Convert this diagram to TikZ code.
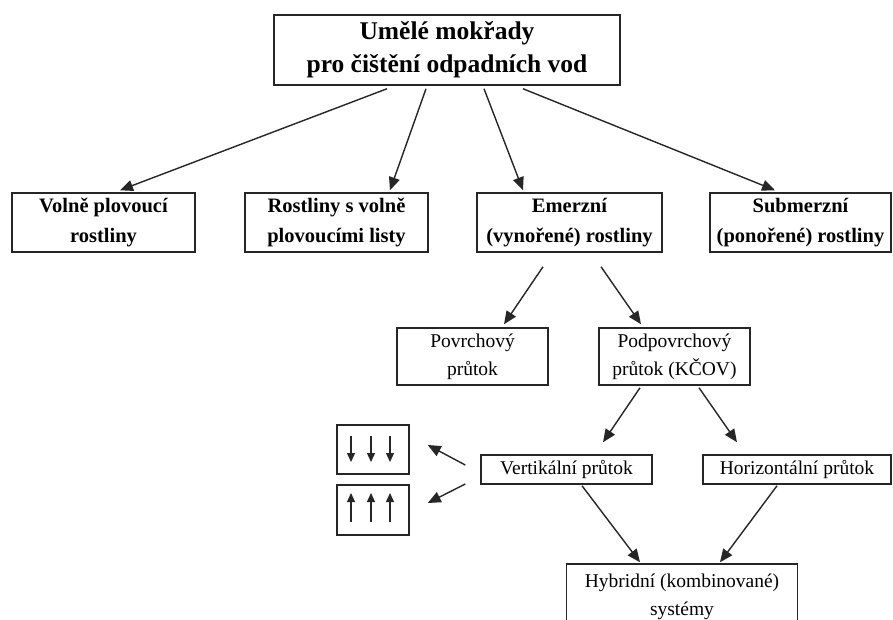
\documentclass[tikz,border=0pt]{standalone}
\usepackage{fontspec}
\setmainfont{Liberation Serif}
\usetikzlibrary{arrows.meta}
\begin{document}
\begin{tikzpicture}[x=1pt,y=-1pt,
  box/.style={draw=black!85,line width=1.5pt,inner sep=0pt,align=center},
  topbox/.style={box,font=\bfseries\fontsize{25.5}{33}\selectfont},
  bbox/.style={box,minimum height=59pt,font=\bfseries\fontsize{20.5}{30}\selectfont},
  rbox/.style={box,font=\fontsize{19.5}{28}\selectfont},
  sbox/.style={draw=black!85,line width=1.5pt,minimum width=72pt,minimum height=49pt,inner sep=0pt},
  arr/.style={draw=black!85,line width=1.4pt,-{Triangle[length=13pt,width=11pt]}},
  sarr/.style={draw=black!85,line width=1.3pt,-{Triangle[length=9pt,width=8pt]}}
]
\path[use as bounding box,clip] (0,0) rectangle (893,619);
\fill[white] (0,0) rectangle (893,619);

\node[topbox,minimum width=346pt,minimum height=70pt] (top) at (447,50) {Umělé mokřady\\pro čištění odpadních vod};

\node[bbox,minimum width=183pt] (v1) at (103.5,222.5) {Volně plovoucí\\rostliny};
\node[bbox,minimum width=183pt] (v2) at (336.5,222.5) {Rostliny s volně\\plovoucími listy};
\node[bbox,minimum width=185pt] (v3) at (569.5,222.5) {Emerzní\\(vynořené) rostliny};
\node[bbox,minimum width=181pt] (v4) at (800.5,222.5) {Submerzní\\(ponořené) rostliny};

\node[rbox,minimum width=151pt,minimum height=57pt] (pov) at (472.5,356.5) {Povrchový\\průtok};
\node[rbox,minimum width=151pt,minimum height=57pt] (podp) at (674.5,356.5) {Podpovrchový\\průtok (KČOV)};

\node[rbox,minimum width=171pt,minimum height=29pt] (vert) at (566.5,469.5) {Vertikální průtok};
\node[rbox,minimum width=188pt,minimum height=29pt] (horiz) at (797,469.5) {Horizontální průtok};

\node[rbox,minimum width=231pt,minimum height=66pt] (hyb) at (682,597) {Hybridní (kombinované)\\systémy};

\node[sbox] (s1) at (373,449.5) {};
\node[sbox,minimum height=50pt] (s2) at (373,510) {};

% top arrows
\draw[arr] ([xshift=-60pt,yshift=-3pt]top.south) -- ([xshift=16.5pt,yshift=2pt]v1.north);
\draw[arr] ([xshift=-21pt,yshift=-3pt]top.south) -- ([xshift=53.5pt,yshift=2pt]v2.north);
\draw[arr] ([xshift=37pt,yshift=-3pt]top.south) -- ([xshift=-46.5pt,yshift=2pt]v3.north);
\draw[arr] ([xshift=76pt,yshift=-3pt]top.south) -- ([xshift=-25.5pt,yshift=2pt]v4.north);

% emerzni arrows
\draw[arr] ([xshift=-26.5pt,yshift=-14pt]v3.south) -- ([xshift=31.5pt,yshift=3pt]pov.north);
\draw[arr] ([xshift=31.5pt,yshift=-14pt]v3.south) -- ([xshift=-33.5pt,yshift=3pt]podp.north);

% podpovrchovy arrows
\draw[arr] ([xshift=-34.5pt,yshift=-2pt]podp.south) -- ([xshift=36.5pt,yshift=12pt]vert.north);
\draw[arr] ([xshift=24.5pt,yshift=-2pt]podp.south) -- ([xshift=-60pt,yshift=12pt]horiz.north);

% to hybrid
\draw[arr] ([xshift=15.5pt,yshift=-1pt]vert.south) -- ([xshift=-42pt,yshift=1pt]hyb.north);
\draw[arr] ([xshift=-20pt,yshift=-1pt]horiz.south) -- ([xshift=38pt,yshift=1pt]hyb.north);

% side arrows
\draw[arr] ([xshift=-15pt,yshift=4.5pt]vert.west) -- ([xshift=18pt,yshift=4.5pt]s1.east);
\draw[arr] ([xshift=-15pt,yshift=-14.5pt]vert.west) -- ([xshift=18pt,yshift=7pt]s2.east);

% arrows inside small boxes
\foreach \dx in {-22,-2,17}{
  \draw[sarr] ([shift={(\dx pt,13.5pt)}]s1.center) -- ([shift={(\dx pt,-12.5pt)}]s1.center);
  \draw[sarr] ([shift={(\dx pt,-12pt)}]s2.center) -- ([shift={(\dx pt,17pt)}]s2.center);
}
\end{tikzpicture}
\end{document}
